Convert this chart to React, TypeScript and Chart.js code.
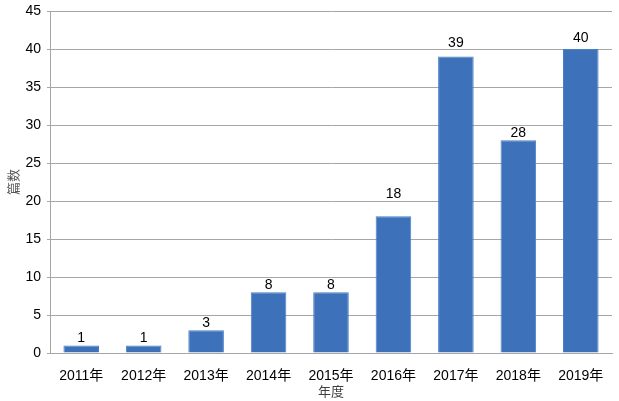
import React, { useEffect, useRef } from "react";
import { Chart, registerables } from "chart.js";

Chart.register(...registerables);

const categories = ["2011年", "2012年", "2013年", "2014年", "2015年", "2016年", "2017年", "2018年", "2019年"];
const values = [1, 1, 3, 8, 8, 18, 39, 28, 40];
const yTitle = "篇数";
const xTitle = "年度";

// extra upward nudge (px) of the value labels that were moved by hand in the original
const labelNudge = [0, 0, 0, 0, 0, 15, 7, 0, 4];

const FONT = "'Liberation Sans', Arial, 'Noto Sans CJK SC', sans-serif";

const labelPlugin = {
  id: "barLabels",
  afterDatasetsDraw(chart: any) {
    const ctx = chart.ctx;
    const meta = chart.getDatasetMeta(0);
    ctx.save();
    ctx.font = `14px ${FONT}`;
    ctx.fillStyle = "#000000";
    ctx.textAlign = "center";
    ctx.textBaseline = "alphabetic";
    meta.data.forEach((bar: any, i: number) => {
      ctx.fillText(String(values[i]), bar.x, bar.y - 3 - (labelNudge[i] || 0));
    });
    ctx.restore();
  },
};

export default function App() {
  const ref = useRef<HTMLCanvasElement | null>(null);
  useEffect(() => {
    if (!ref.current) return;
    const chart = new Chart(ref.current, {
      type: "bar",
      data: {
        labels: categories,
        datasets: [
          {
            data: values,
            backgroundColor: "#3D72BA",
            borderColor: "#4A80C6",
            borderWidth: 1,
            categoryPercentage: 1,
            barPercentage: 0.57,
          },
        ],
      },
      options: {
        animation: false,
        responsive: false,
        maintainAspectRatio: false,
        layout: { padding: { top: 11, right: 7, left: 0, bottom: 0 } },
        plugins: {
          legend: { display: false },
          tooltip: { enabled: false },
        },
        scales: {
          x: {
            grid: { display: false, drawTicks: false },
            border: { display: true, color: "#A6A6A6", width: 1 },
            ticks: {
              color: "#000000",
              font: { size: 14, family: FONT },
              padding: 15,
              maxRotation: 0,
            },
            title: {
              display: true,
              text: xTitle,
              color: "#404040",
              font: { size: 13, family: FONT },
              padding: { top: 0, bottom: 1 },
            },
            afterFit: (s: any) => {
              s.height = 48;
              s.paddingLeft = 0;
              s.paddingRight = 0;
            },
          },
          y: {
            min: 0,
            max: 45,
            ticks: {
              stepSize: 5,
              color: "#000000",
              font: { size: 14, family: FONT },
              padding: 6,
            },
            grid: { color: "#A6A6A6", lineWidth: 1, drawTicks: true, tickLength: 3 },
            border: { display: true, color: "#A6A6A6", width: 1 },
            title: {
              display: true,
              text: yTitle,
              color: "#595959",
              font: { size: 13, family: FONT },
              padding: { top: 7, bottom: 0 },
            },
            afterFit: (s: any) => {
              s.width = 50;
              s.paddingTop = 0;
              s.paddingBottom = 0;
            },
          },
        },
      },
      plugins: [labelPlugin],
    });
    return () => chart.destroy();
  }, []);
  return (
    <div style={{ position: "fixed", left: 0, top: 0, width: 619, height: 401, background: "#fff" }}>
      <canvas ref={ref} width={619} height={401} style={{ width: 619, height: 401 }} />
    </div>
  );
}
